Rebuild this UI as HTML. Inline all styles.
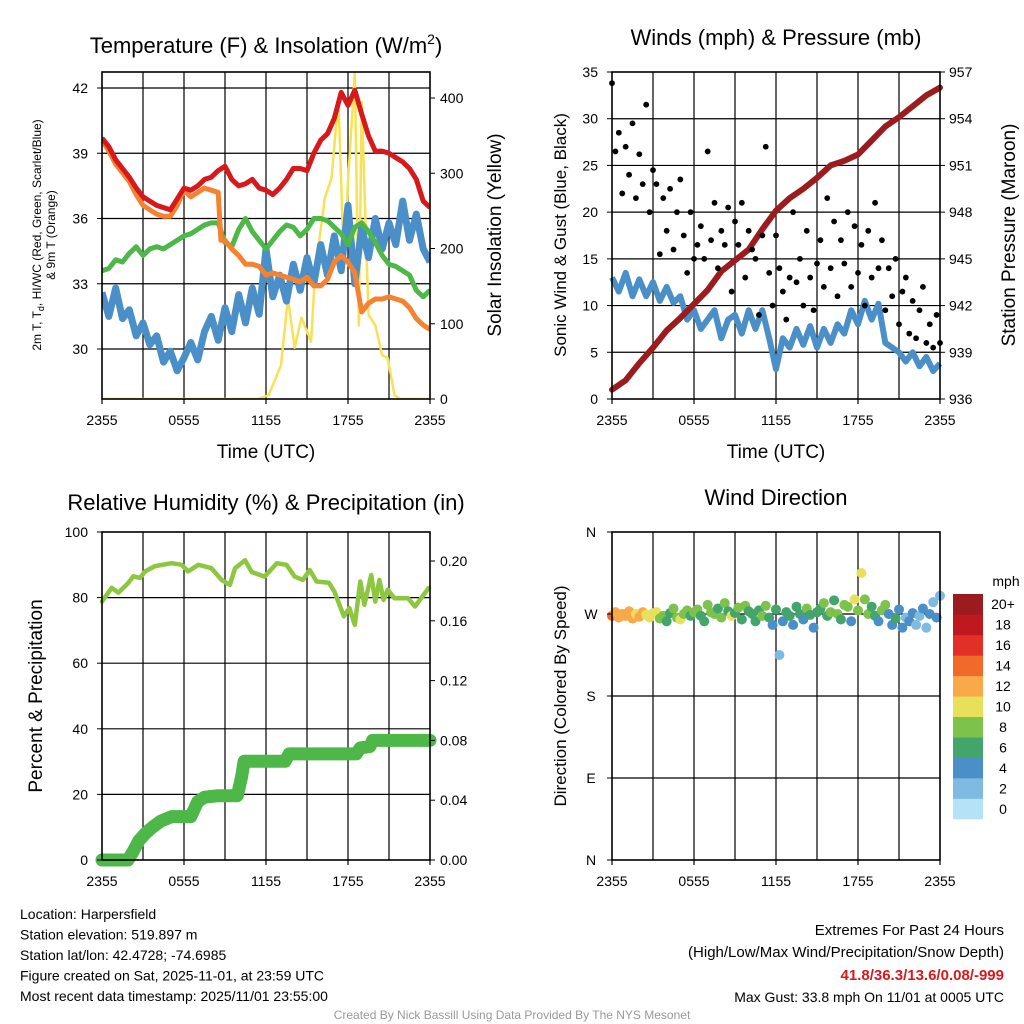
<!DOCTYPE html>
<html><head><meta charset="utf-8"><style>
body{margin:0;background:#fff}
svg{display:block;font-family:"Liberation Sans",sans-serif}
</style></head><body>
<svg id="c" width="1024" height="1024" viewBox="0 0 1024 1024"></svg>
<script>
// ---------- data ----------
const xTickLabels=["2355","0555","1155","1755","2355"];
const halfHours=[];for(let i=0;i<=48;i++)halfHours.push(i*0.5);
const quarterHours=[];for(let i=0;i<=96;i++)quarterHours.push(i*0.25);
const tempRed=[39.7,39.3,38.7,38.3,37.9,37.4,37.0,36.8,36.6,36.5,36.4,36.9,37.4,37.3,37.5,37.8,37.9,38.2,38.4,37.8,37.5,37.6,37.8,37.4,37.3,37.1,37.4,37.8,38.3,38.3,38.2,39.0,39.6,39.9,40.6,41.8,41.2,41.9,40.8,39.8,39.1,39.1,39.0,38.8,38.6,38.3,37.8,36.8,36.5];
const tempOrangeTimes=[0,0.5,1,1.5,2,2.5,3,3.5,4,4.5,5,5.5,6,6.5,7,7.5,8,8.5,8.7,9,9.5,10,10.5,11,11.5,12,12.5,13,13.5,14,14.5,15,15.5,16,16.5,17,17.5,18,18.5,19,19.5,20,20.5,21,21.5,22,22.5,23,23.5,24];
const tempOrange=[39.6,39.1,38.5,38.1,37.7,37.1,36.6,36.4,36.2,36.1,36.1,36.6,37.3,37.0,37.2,37.4,37.3,37.2,35.0,35.0,34.6,34.3,33.9,33.9,33.8,33.4,33.5,33.4,33.3,33.2,33.1,33.3,32.9,32.9,33.2,34.0,34.3,34.0,33.5,31.7,32.1,32.3,32.3,32.4,32.3,32.2,31.9,31.4,31.1,30.9];
const dewGreen=[33.6,33.7,34.1,34.0,34.4,34.7,34.3,34.6,34.7,34.6,34.8,35.0,35.2,35.3,35.5,35.7,35.8,35.8,34.9,34.7,35.5,36.0,35.4,35.0,34.6,35.0,35.4,35.7,35.6,35.2,35.5,36.0,36.0,35.9,35.6,35.3,34.8,35.6,35.8,35.4,34.9,34.3,33.9,33.8,33.6,33.4,32.7,32.4,32.7];
const chillBlue=[32.6,31.5,32.8,31.4,31.8,30.6,31.2,30.2,30.6,29.4,29.9,29.0,29.6,30.3,29.5,30.8,31.5,30.4,31.9,30.8,32.5,31.2,32.8,31.6,34.6,32.4,33.4,32.2,33.9,32.7,34.2,33.0,34.8,33.4,35.2,33.6,36.6,33.0,35.6,34.2,36.0,34.6,35.8,34.8,36.8,35.0,36.2,34.6,34.0];
const solarTimes=[0,11.4,12.2,13.1,13.6,14.1,14.6,15.3,15.6,16.3,16.8,17.3,17.7,18.0,18.5,18.8,19.0,19.5,20.0,20.5,20.9,21.4,21.8,24];
const solarVals=[0,0,5,45,134,68,108,76,170,267,294,400,178,289,434,98,395,112,98,58,55,5,0,0];
const tempTicks=[30,33,36,39,42];
const solarTicks=[0,100,200,300,400];

const sonicWind=[13,11.5,13.5,11,12.8,11,12.5,10.5,12,10.3,11,8.5,9.5,7.5,8.5,9.5,6.5,8.5,9,7,9.5,7.5,9.5,6.5,3.2,6.5,5.5,7.5,5.8,7.8,5.5,7.5,6,8,7,9.5,8,10.5,8.5,10.2,6,5.5,5,4,5,3.5,4.5,3,3.8];
const gusts=[33.8,26.5,28.5,22,27,24,29.5,21.5,26.2,23,31.5,20,24.5,23,15.5,21.5,18,22.5,16,20,23.5,17.5,13.5,20,15,16.5,18.5,15,26.5,17,21,14,18,16.5,20.5,11.5,19,16.5,21,13,18,16,15,9,17.5,27,13.5,10,17.5,14,11.5,8.5,13,20,12.5,15,10,18,13,9.5,14.5,17,12,21.5,14,19,11,17,14.5,20,12,18.5,13.5,16.5,10,18,13,21,14,17,9.5,14,11,15,8,11.5,13,7,10.5,6.5,9.5,12,6,8,5.5,9,6];
const pressTimes=[0,1,2,3,4,5,6,7,8,9,10,11,12,13,14,15,16,17,18,19,20,21,22,23,24];
const pressure=[936.6,937.2,938.3,939.3,940.4,941.2,942.1,943.0,944.2,944.9,945.6,946.9,948.1,948.9,949.5,950.2,951.0,951.3,951.7,952.6,953.5,954.1,954.8,955.5,956.0];
const windTicks=[0,5,10,15,20,25,30,35];
const pressTicks=[936,939,942,945,948,951,954,957];

const rhTimes=[0,0.71,1.2,1.93,2.29,2.78,3.15,3.88,5.1,5.83,6.3,7.05,8.0,8.75,9.36,9.73,10.46,10.95,11.9,12.8,13.5,14.1,14.7,15.2,15.7,16.6,17.0,17.7,18.1,18.5,18.9,19.2,19.7,20.0,20.3,20.6,20.9,21.4,22.4,22.9,23.9];
const rhVals=[78.8,83,81.5,84.5,86.5,86,88,89.6,90.5,90,88,90,89,85.4,83.9,88.9,91.4,87.8,86.4,90.5,90,86.4,85.4,88.4,84.9,84.5,81.9,74.3,76.8,71.7,84.9,77.8,86.9,78.8,85.4,79.3,82.4,79.8,79.8,77.3,82.9];
const precipTimes=[0,1.9,2.3,2.7,3.2,3.7,4.3,5.1,6.5,7.0,7.5,8.5,9.9,10.2,10.4,13.4,13.7,18.6,18.9,19.6,19.8,24];
const precipVals=[0,0,0.006,0.013,0.018,0.022,0.026,0.029,0.029,0.039,0.042,0.043,0.043,0.055,0.066,0.066,0.071,0.071,0.075,0.076,0.080,0.080];
const rhTicks=[0,20,40,60,80,100];
const precipTicks=["0.00","0.04","0.08","0.12","0.16","0.20"];

const windDir=[268,272,266,270,268,273,265,270,267,272,269,266,271,
272,265,268,262,271,276,266,264,270,274,268,272,
275,268,262,280,272,270,276,266,282,273,268,271,277,264,279,273,
270,262,274,268,279,266,258,275,
225,262,272,268,258,278,270,264,276,269,255,272,
276,282,268,272,285,270,264,280,278,262,286,274,
315,286,270,278,268,262,274,280,
270,258,265,275,255,266,262,271,
258,268,276,255,270,283,266,290];
const windSpd=[14,12.5,13,12,12.5,13,12,11,12.5,12,10,11,10,
10,9,8,6,7,9,8.5,10,9,8,7.5,8,
8,7,6,8.5,8,9,7.5,8,8.5,7,10,6.5,8,7,9,7.5,
6,6.5,7,9,8.5,6,5,7.5,
3,5,6,6.5,4.5,7,6,5,8,6,4,7,
6,8,6.5,9,7.5,8,6,9.5,8,5.5,10,9,
10.5,9.5,8,7,6,5,8.5,9,
5,4.5,6,4,5,3.5,4,5,
3.5,3,4,2.5,4,3,4.5,2.5];
const dirTicks=["N","E","S","W","N"];
const speedBinLabels=["0","2","4","6","8","10","12","14","16","18","20+"];
const speedBinColors=["#b5e2f7","#7fbae3","#4a8fc7","#43a56b","#7cc24b","#e8e05a","#f9a94a","#f26a2a","#e03027","#c0181f","#9b1b1e"];

// ---------- drawing ----------
const NS="http://www.w3.org/2000/svg";
const svg=document.getElementById('c');
function mk(tag,attrs,parent){const e=document.createElementNS(NS,tag);for(const k in attrs)e.setAttribute(k,attrs[k]);(parent||svg).appendChild(e);return e;}
function txt(s,x,y,size,anchor,parent,extra){const t=mk('text',Object.assign({x:x,y:y,'font-size':size,'text-anchor':anchor||'middle',fill:'#000'},extra||{}),parent);t.textContent=s;return t;}
function lin(d0,d1,r0,r1){return v=>r0+(v-d0)*(r1-r0)/(d1-d0);}
function pathFrom(xs,ys,fx,fy){return xs.map((x,i)=>(i?'L':'M')+fx(x).toFixed(1)+','+fy(ys[i]).toFixed(1)).join('');}

function panelBase(name,x0,y0,w,h,vgridY){
  const g=mk('g',{},svg);
  
  
  const fx=lin(0,24,x0,x0+w);
  for(let k=1;k<8;k++){const l=mk('line',{x1:fx(k*3),x2:fx(k*3),y1:y0,y2:y0+h,stroke:'#000','stroke-width':1.2},g);
    }
  vgridY.forEach(y=>{const l=mk('line',{x1:x0,x2:x0+w,y1:y,y2:y,stroke:'#000','stroke-width':1.2},g);
    });
  xTickLabels.forEach((s,i)=>{const x=fx(i*6);mk('line',{x1:x,x2:x,y1:y0+h,y2:y0+h+5,stroke:'#000','stroke-width':1.2},g);
    const t=txt(s,x,y0+h+26,14,'middle',g);});
  return {g,fx};
}
function frame(g,x0,y0,w,h){const r=mk('rect',{x:x0,y:y0,width:w,height:h,fill:'none',stroke:'#000','stroke-width':1.6},g);
  }
function clip(id,x0,y0,w,h){const d=mk('defs',{});const c=mk('clipPath',{id:id},d);mk('rect',{x:x0,y:y0,width:w,height:h},c);}

// Panel 1
(function(){
  const x0=102,y0=72,w=328,h=327;
  const fy=lin(30,42,349,88), fs=lin(0,400,399,98);
  const {g,fx}=panelBase('temperature-panel',x0,y0,w,h,tempTicks.map(fy));
  clip('c1',x0,y0,w,h);
  const lg=mk('g',{'clip-path':'url(#c1)'},g);
  let p=mk('path',{d:pathFrom(solarTimes,solarVals,fx,fs),fill:'none',stroke:'#f9e154','stroke-width':2.5,'stroke-linejoin':'round'},lg);
  
  p=mk('path',{d:pathFrom(halfHours,chillBlue,fx,fy),fill:'none',stroke:'#4a8fc7','stroke-width':7,'stroke-linejoin':'round'},lg);
  
  p=mk('path',{d:pathFrom(halfHours,dewGreen,fx,fy),fill:'none',stroke:'#4db848','stroke-width':5,'stroke-linejoin':'round'},lg);
  
  p=mk('path',{d:pathFrom(tempOrangeTimes,tempOrange,fx,fy),fill:'none',stroke:'#f58231','stroke-width':5,'stroke-linejoin':'round'},lg);
  
  p=mk('path',{d:pathFrom(halfHours,tempRed,fx,fy),fill:'none',stroke:'#d7191c','stroke-width':5,'stroke-linejoin':'round'},lg);
  
  tempTicks.forEach(v=>{mk('line',{x1:x0-5,x2:x0,y1:fy(v),y2:fy(v),stroke:'#000'},g);
    const t=txt(String(v),x0-14,fy(v)+5,14,'end',g);});
  solarTicks.forEach(v=>{mk('line',{x1:x0+w,x2:x0+w+5,y1:fs(v),y2:fs(v),stroke:'#000'},g);
    const t=txt(String(v),x0+w+10,fs(v)+5,14,'start',g);});
  frame(g,x0,y0,w,h);
  let t=txt('',266,53,22,'middle',g);t.innerHTML='Temperature (F) &amp; Insolation (W/m<tspan font-size="14" dy="-9">2</tspan><tspan dy="9">)</tspan>';
  
  t=txt('Time (UTC)',266,458,19,'middle',g);
  t=txt('',0,0,12,'middle',g,{transform:'translate(41,235) rotate(-90)'});t.innerHTML='2m T, T<tspan font-size="9" dy="3">d</tspan><tspan dy="-3">, HI/WC (Red, Green, Scarlet/Blue)</tspan>';
  
  t=txt('& 9m T (Orange)',0,0,12,'middle',g,{transform:'translate(55,235) rotate(-90)'});
  t=txt('Solar Insolation (Yellow)',0,0,19,'middle',g,{transform:'translate(501,235) rotate(-90)'});
})();

// Panel 2
(function(){
  const x0=612,y0=72,w=328,h=327;
  const fy=lin(0,35,399,72), fp=lin(936,957,399,72);
  const {g,fx}=panelBase('winds-panel',x0,y0,w,h,windTicks.slice(1,7).map(fy));
  clip('c2',x0-4,y0,w+8,h+4);
  const lg=mk('g',{'clip-path':'url(#c2)'},g);
  let p=mk('path',{d:pathFrom(halfHours,sonicWind,fx,fy),fill:'none',stroke:'#4a8fc7','stroke-width':6,'stroke-linejoin':'round'},lg);
  
  p=mk('path',{d:pathFrom(pressTimes,pressure,fx,fp),fill:'none',stroke:'#9b1b1e','stroke-width':6,'stroke-linejoin':'round','stroke-linecap':'round'},lg);
  
  gusts.forEach((v,i)=>{const c=mk('circle',{cx:fx(quarterHours[i]),cy:fy(v),r:2.9,fill:'#000'},lg);
    });
  windTicks.forEach(v=>{mk('line',{x1:x0-5,x2:x0,y1:fy(v),y2:fy(v),stroke:'#000'},g);
    const t=txt(String(v),x0-14,fy(v)+5,14,'end',g);});
  pressTicks.forEach(v=>{mk('line',{x1:x0+w,x2:x0+w+5,y1:fp(v),y2:fp(v),stroke:'#000'},g);
    const t=txt(String(v),x0+w+9,fp(v)+5,14,'start',g);});
  frame(g,x0,y0,w,h);
  let t=txt('Winds (mph) & Pressure (mb)',776,45,22,'middle',g);
  t=txt('Time (UTC)',776,458,19,'middle',g);
  t=txt('Sonic Wind & Gust (Blue, Black)',0,0,17,'middle',g,{transform:'translate(566,235) rotate(-90)'});
  t=txt('Station Pressure (Maroon)',0,0,19,'middle',g,{transform:'translate(1015,235) rotate(-90)'});
})();

// Panel 3
(function(){
  const x0=102,y0=532,w=328,h=328;
  const fy=lin(0,100,860,532), fp=lin(0,0.2,860,561);
  const {g,fx}=panelBase('humidity-panel',x0,y0,w,h,rhTicks.slice(1,5).map(fy));
  clip('c3',x0-8,y0,w+16,h+8);
  const lg=mk('g',{'clip-path':'url(#c3)'},g);
  let p=mk('path',{d:pathFrom(precipTimes,precipVals,fx,fp),fill:'none',stroke:'#4db848','stroke-width':13,'stroke-linejoin':'round','stroke-linecap':'round'},lg);
  
  p=mk('path',{d:pathFrom(rhTimes,rhVals,fx,fy),fill:'none',stroke:'#8dc63f','stroke-width':4.5,'stroke-linejoin':'round','stroke-linecap':'round'},lg);
  
  rhTicks.forEach(v=>{mk('line',{x1:x0-5,x2:x0,y1:fy(v),y2:fy(v),stroke:'#000'},g);
    const t=txt(String(v),x0-14,fy(v)+5,14,'end',g);});
  precipTicks.forEach(s=>{const v=parseFloat(s);mk('line',{x1:x0+w,x2:x0+w+5,y1:fp(v),y2:fp(v),stroke:'#000'},g);
    const t=txt(s,x0+w+10,fp(v)+5,14,'start',g);});
  frame(g,x0,y0,w,h);
  let t=txt('Relative Humidity (%) & Precipitation (in)',266,510,22,'middle',g);
  t=txt('Percent & Precipitation',0,0,19,'middle',g,{transform:'translate(42,696) rotate(-90)'});
})();

// Panel 4
(function(){
  const x0=612,y0=532,w=328,h=328;
  const fy=lin(0,360,860,532);
  const {g,fx}=panelBase('wind-direction-panel',x0,y0,w,h,[90,180,270].map(fy));
  clip('c4',x0-6,y0,w+12,h);
  const lg=mk('g',{'clip-path':'url(#c4)'},g);
  windDir.forEach((d,i)=>{const s=windSpd[i];let b=Math.min(10,Math.floor(s/2));
    const c=mk('circle',{cx:fx(quarterHours[i]),cy:fy(d),r:5,fill:speedBinColors[b]},lg);
    });
  dirTicks.forEach((s,i)=>{const y=fy(i*90);mk('line',{x1:x0-5,x2:x0,y1:y,y2:y,stroke:'#000'},g);
    const t=txt(s,591,y+5,14,'middle',g);});
  frame(g,x0,y0,w,h);
  let t=txt('Wind Direction',776,505,22,'middle',g);
  t=txt('Direction (Colored By Speed)',0,0,17,'middle',g,{transform:'translate(566,696) rotate(-90)'});
  const cb=mk('g',{},svg);
  
  const bh=225/11;
  speedBinColors.forEach((c,i)=>{const y=819-(i+1)*bh;mk('rect',{x:953,y:y,width:30,height:bh+0.3,fill:c},cb);
    const t=txt(speedBinLabels[i],1003,y+bh/2+5,14,'middle',cb);});
  t=txt('mph',1006,586,14,'middle',cb);
})();

// Footer
(function(){
  const f=mk('g',{},svg);
  
  const left=["Location: Harpersfield","Station elevation: 519.897 m","Station lat/lon: 42.4728; -74.6985","Figure created on Sat, 2025-11-01, at 23:59 UTC","Most recent data timestamp: 2025/11/01 23:55:00"];
  left.forEach((s,i)=>{const t=txt(s,20,919+i*20.5,14,'start',f);});
  let t=txt('Extremes For Past 24 Hours',1004,935,15,'end',f);
  t=txt('(High/Low/Max Wind/Precipitation/Snow Depth)',1004,957,15,'end',f);
  t=txt('41.8/36.3/13.6/0.08/-999',1004,980,15,'end',f,{fill:'#d7191c','font-weight':'bold'});
  t=txt('Max Gust: 33.8 mph On 11/01 at 0005 UTC',1004,1002,14,'end',f);
  t=txt('Created By Nick Bassill Using Data Provided By The NYS Mesonet',512,1019,12,'middle',f,{fill:'#999'});
})();
</script>
</body></html>
